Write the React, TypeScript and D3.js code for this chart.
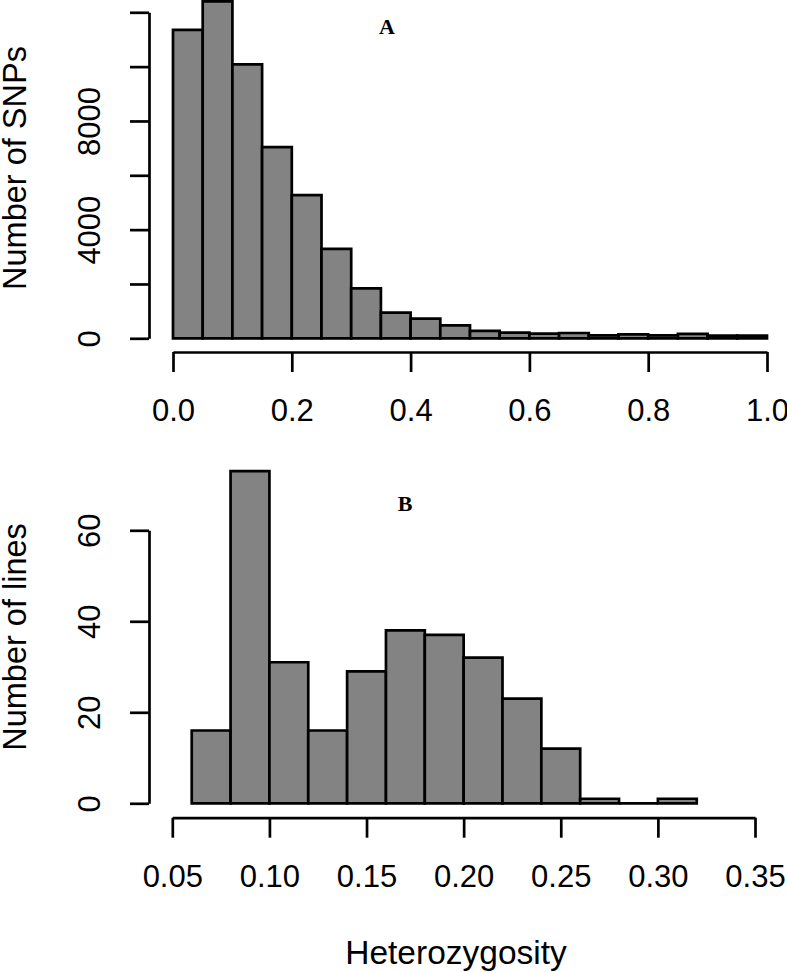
import { useRef, useEffect } from 'react';
import * as d3 from 'd3';

// Panel A: SNP heterozygosity histogram
const snpBreaks = [0, 0.05, 0.1, 0.15, 0.2, 0.25, 0.3, 0.35, 0.4, 0.45, 0.5, 0.55, 0.6, 0.65, 0.7, 0.75, 0.8, 0.85, 0.9, 0.95, 1.0];
const snpCounts = [11350, 12400, 10080, 7040, 5270, 3290, 1840, 945, 725, 478, 270, 210, 172, 195, 110, 147, 110, 160, 100, 100];
const snpXTicks = [0, 0.2, 0.4, 0.6, 0.8, 1.0];
const snpYTicks = [0, 2000, 4000, 6000, 8000, 10000, 12000];
const snpYLabels = [0, 4000, 8000];

// Panel B: line heterozygosity histogram
const lineBreaks = [0.06, 0.08, 0.1, 0.12, 0.14, 0.16, 0.18, 0.2, 0.22, 0.24, 0.26, 0.28, 0.3, 0.32];
const lineCounts = [16, 73, 31, 16, 29, 38, 37, 32, 23, 12, 1, 0, 1];
const lineXTicks = [0.05, 0.1, 0.15, 0.2, 0.25, 0.3, 0.35];
const lineYTicks = [0, 20, 40, 60];

const W = 787;
const H = 972;
const FONT = '"Liberation Sans", Arial, Helvetica, sans-serif';
const BAR_FILL = '#838383';
const LW = 2.7;

interface PanelSpec {
  breaks: number[];
  counts: number[];
  xTicks: number[];
  xFormat: (d: number) => string;
  yTicks: number[];
  yLabels: number[];
  xScale: d3.ScaleLinear<number, number>;
  yScale: d3.ScaleLinear<number, number>;
  axisY: number; // y position of the detached x axis
  axisX: number; // x position of the detached y axis
  yTitle: string;
  yTitleY: number;
  tag: string;
  tagX: number;
  tagY: number;
}

function drawPanel(svg: d3.Selection<SVGSVGElement, unknown, null, undefined>, p: PanelSpec) {
  const g = svg.append('g');
  const bins = p.counts.map((c, i) => ({ x0: p.breaks[i], x1: p.breaks[i + 1], c }));

  // Bars (paths, so empty bins still show as a line)
  g.selectAll('path.bar')
    .data(bins)
    .join('path')
    .attr('class', 'bar')
    .attr('d', (d) => {
      const x0 = p.xScale(d.x0);
      const x1 = p.xScale(d.x1);
      const y0 = p.yScale(0);
      const y1 = p.yScale(d.c);
      return `M${x0},${y0}H${x1}V${y1}H${x0}Z`;
    })
    .attr('fill', BAR_FILL)
    .attr('stroke', '#000')
    .attr('stroke-width', LW)
    .attr('stroke-linejoin', 'miter');

  // X axis
  const xAxis = g
    .append('g')
    .attr('transform', `translate(0,${p.axisY})`)
    .call(
      d3
        .axisBottom(p.xScale)
        .tickValues(p.xTicks)
        .tickSizeInner(20)
        .tickSizeOuter(0)
        .tickFormat((d) => p.xFormat(d as number))
    );
  xAxis.select('.domain').attr('stroke-width', LW);
  xAxis.selectAll('line').attr('stroke-width', LW);
  xAxis
    .selectAll('text')
    .attr('y', 69)
    .attr('dy', 0)
    .attr('font-family', FONT)
    .attr('font-size', 31)
    .attr('fill', '#000');

  // Y axis
  const yAxis = g
    .append('g')
    .attr('transform', `translate(${p.axisX},0)`)
    .call(
      d3
        .axisLeft(p.yScale)
        .tickValues(p.yTicks)
        .tickSizeInner(19)
        .tickSizeOuter(0)
        .tickFormat((d) => (p.yLabels.includes(d as number) ? String(d) : ''))
    );
  yAxis.select('.domain').attr('stroke-width', LW);
  yAxis.selectAll('line').attr('stroke-width', LW);
  yAxis
    .selectAll('text')
    .attr('transform', 'rotate(-90)')
    .attr('x', 0)
    .attr('y', -49)
    .attr('dy', 0)
    .attr('text-anchor', 'middle')
    .attr('font-family', FONT)
    .attr('font-size', 31)
    .attr('fill', '#000');

  // Y title
  g.append('text')
    .attr('transform', `translate(26,${p.yTitleY}) rotate(-90)`)
    .attr('text-anchor', 'middle')
    .attr('font-family', FONT)
    .attr('font-size', 32.5)
    .text(p.yTitle);

  // Panel tag
  g.append('text')
    .attr('x', p.tagX)
    .attr('y', p.tagY)
    .attr('text-anchor', 'middle')
    .attr('font-family', '"Liberation Serif", "Times New Roman", serif')
    .attr('font-weight', 'bold')
    .attr('font-size', 22)
    .text(p.tag);
}

export default function App() {
  const svgRef = useRef<SVGSVGElement>(null);

  useEffect(() => {
    document.body.style.margin = '0';
    if (!svgRef.current) return;
    const svg = d3.select(svgRef.current);
    svg.selectAll('*').remove();

    drawPanel(svg, {
      breaks: snpBreaks,
      counts: snpCounts,
      xTicks: snpXTicks,
      xFormat: d3.format('.1f'),
      yTicks: snpYTicks,
      yLabels: snpYLabels,
      xScale: d3.scaleLinear().domain([0, 1]).range([173, 767]),
      yScale: d3.scaleLinear().domain([0, 12000]).range([338.3, 12.3]),
      axisY: 352,
      axisX: 149,
      yTitle: 'Number of SNPs',
      yTitleY: 168,
      tag: 'A',
      tagX: 387,
      tagY: 34,
    });

    drawPanel(svg, {
      breaks: lineBreaks,
      counts: lineCounts,
      xTicks: lineXTicks,
      xFormat: d3.format('.2f'),
      yTicks: lineYTicks,
      yLabels: lineYTicks,
      xScale: d3.scaleLinear().domain([0.05, 0.35]).range([172.3, 755]),
      yScale: d3.scaleLinear().domain([0, 60]).range([803.3, 530.3]),
      axisY: 817.7,
      axisX: 149,
      yTitle: 'Number of lines',
      yTitleY: 637,
      tag: 'B',
      tagX: 405,
      tagY: 511,
    });

    svg
      .append('text')
      .attr('x', 456)
      .attr('y', 964)
      .attr('text-anchor', 'middle')
      .attr('font-family', FONT)
      .attr('font-size', 33.5)
      .text('Heterozygosity');
  }, []);

  return <svg ref={svgRef} width={W} height={H} style={{ display: 'block', background: '#fff' }} />;
}
